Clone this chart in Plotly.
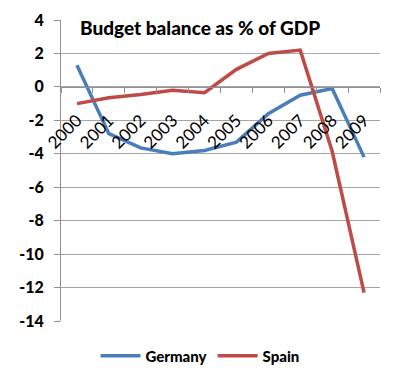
import plotly.graph_objects as go

years = ["2000", "2001", "2002", "2003", "2004", "2005", "2006", "2007", "2008", "2009"]
germany = [1.3, -2.8, -3.65, -4.0, -3.8, -3.3, -1.6, -0.5, -0.1, -4.2]
spain = [-1.0, -0.65, -0.45, -0.2, -0.35, 1.05, 2.0, 2.2, -3.85, -12.3]
y_ticks = [4, 2, 0, -2, -4, -6, -8, -10, -12, -14]
y_labels = ["4", "2", "0", "-2", "-4", "-6", "-8", "-10", "-12", "-14"]

FONT = "Lato"
WT = 900
# page body has an 8px default margin; figure is sized to fill the rest
W, H, OFF = 392, 376, 8
L, T, R, B = 61 - OFF, 20 - OFF, 20, 63
PW, PH = W - L - R, H - T - B

fig = go.Figure()
fig.add_trace(go.Scatter(x=years, y=germany, mode="lines", name="Germany",
                         line=dict(color="#4A7EBB", width=3.5)))
fig.add_trace(go.Scatter(x=years, y=spain, mode="lines", name="Spain",
                         line=dict(color="#BE4B48", width=3.5)))

ymin, ymax = -14, 4
fig.update_layout(
    width=W, height=H,
    margin=dict(l=L, r=R, t=T, b=B, autoexpand=False),
    plot_bgcolor="white", paper_bgcolor="white",
    font=dict(family=FONT, size=14, color="black"),
    showlegend=True,
    legend=dict(orientation="h", x=(200 - OFF - L) / PW, xanchor="center",
                y=(H - B - (356 - OFF)) / PH, yanchor="middle",
                font=dict(family=FONT, size=15, color="black", weight=WT),
                itemwidth=40, tracegroupgap=0),
    xaxis=dict(type="category", range=[-0.5, 9.5], anchor="free",
               position=(0 - ymin) / (ymax - ymin),
               showline=True, linecolor="#909090", linewidth=1,
               ticks="outside", tickson="boundaries", ticklen=5, tickcolor="#909090",
               tickangle=-45, showgrid=False, automargin=False, ticklabelstandoff=16,
               tickfont=dict(family=FONT, size=17, color="black", weight="normal")),
    yaxis=dict(range=[ymin, ymax], tickvals=y_ticks, ticktext=y_labels,
               showline=True, linecolor="#909090", linewidth=1,
               ticks="outside", ticklen=6, tickcolor="#909090", automargin=False,
               ticklabelstandoff=7,
               gridcolor="#A6A6A6", gridwidth=1, zeroline=False,
               tickfont=dict(family=FONT, size=16, color="black", weight=WT)),
)
fig.add_annotation(text="Budget balance as % of GDP", xref="paper", yref="paper",
                   x=(200 - OFF - L) / PW, y=(H - B - (27 - OFF)) / PH,
                   xanchor="center", yanchor="middle",
                   showarrow=False, font=dict(family=FONT, size=19, color="black", weight=WT))
fig.write_html("out.html")
